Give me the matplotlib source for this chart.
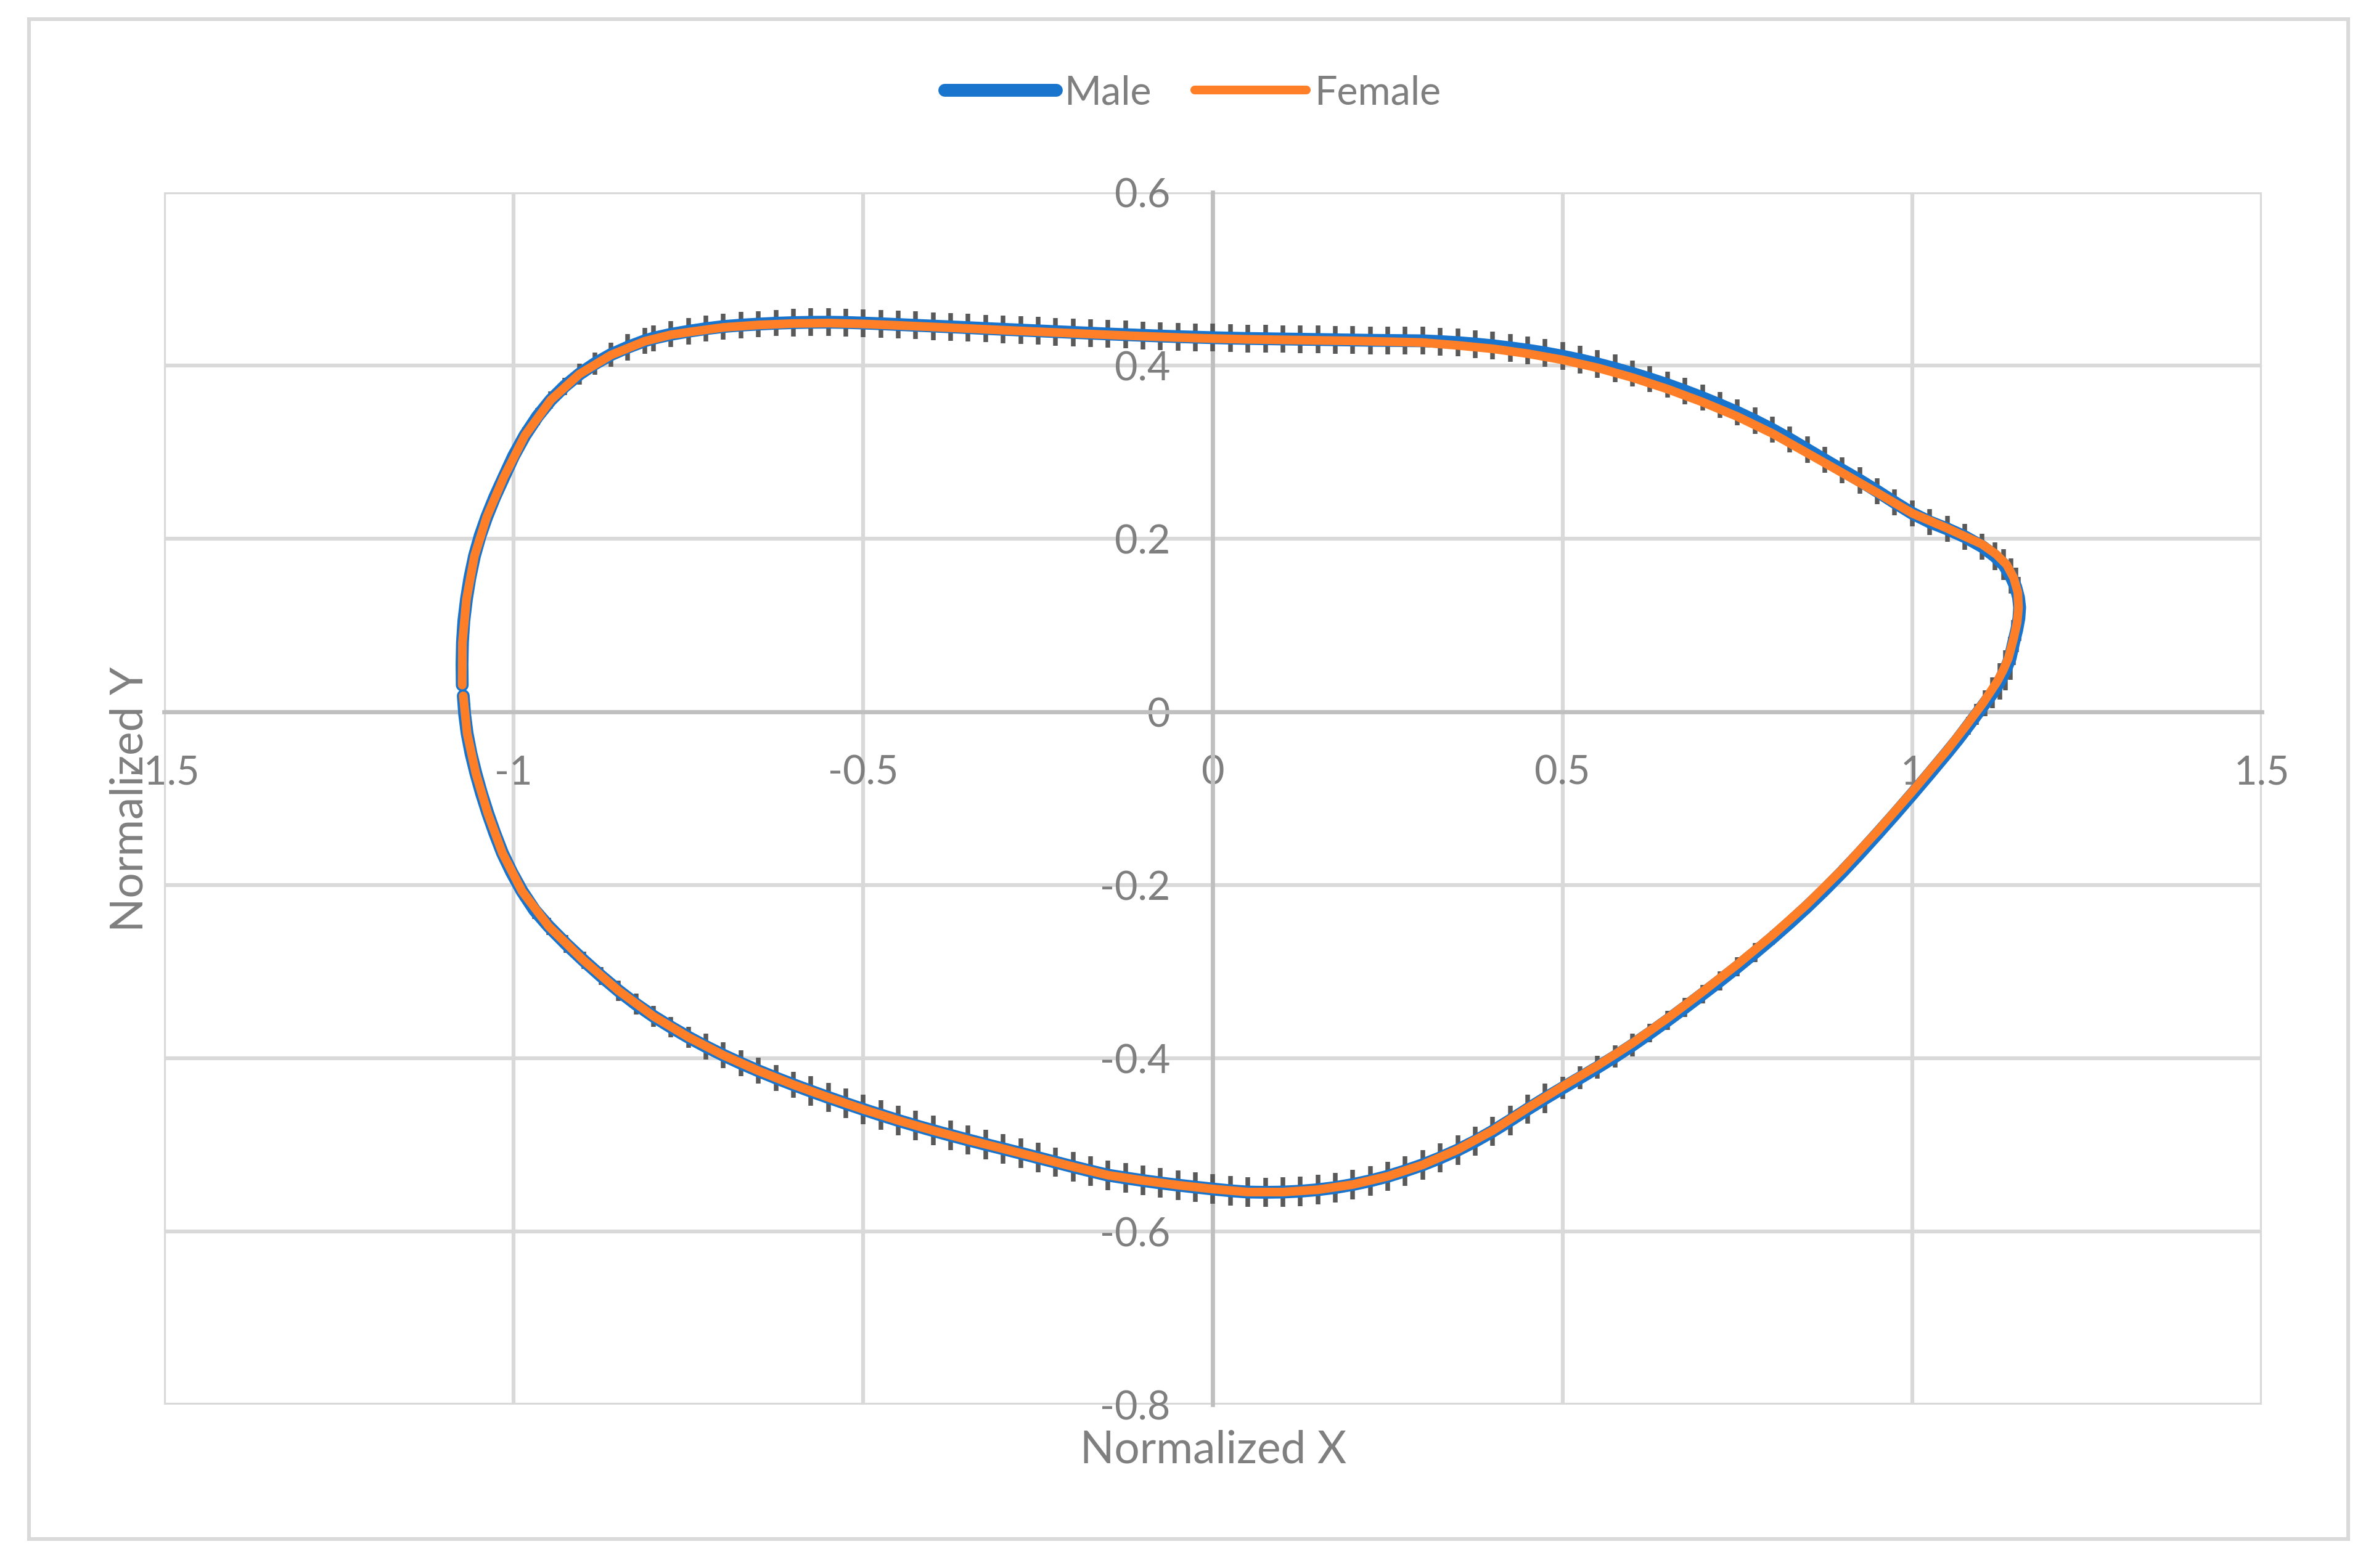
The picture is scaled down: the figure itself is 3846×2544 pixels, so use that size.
import matplotlib.pyplot as plt
from matplotlib.patches import Rectangle

plt.rcParams['font.family'] = ['Lato', 'DejaVu Sans']

# outline: left end -> top -> right tip -> bottom -> left end
male_x = [
    -1.0735, -1.0738, -1.0732, -1.0712, -1.0675, -1.0625, -1.0560, -1.0480, -1.0385, -1.0270,
    -1.0140, -1.0000, -0.9840, -0.9660, -0.9470, -0.9270, -0.9060, -0.8840, -0.8610, -0.8370,
    -0.8125,
    -0.800, -0.775, -0.750, -0.725, -0.700, -0.675, -0.650, -0.625, -0.600, -0.575,
    -0.550, -0.525, -0.500, -0.475, -0.450, -0.425, -0.400, -0.375, -0.350, -0.325,
    -0.300, -0.275, -0.250, -0.225, -0.200, -0.175, -0.150, -0.125, -0.100, -0.075,
    -0.050, -0.025, 0.000, 0.025, 0.050, 0.075, 0.100, 0.125, 0.150, 0.175,
    0.200, 0.225, 0.250, 0.275, 0.300, 0.325, 0.350, 0.375, 0.400, 0.425,
    0.450, 0.475, 0.500, 0.525, 0.550, 0.575, 0.600, 0.625, 0.650, 0.675,
    0.700, 0.725, 0.750, 0.775, 0.800, 0.825, 0.850, 0.875, 0.900, 0.925,
    0.950, 0.975, 1.000, 1.025, 1.050, 1.075, 1.100,
    1.1180, 1.1310, 1.1410, 1.1480, 1.1520, 1.1536, 1.1525, 1.1495, 1.1450, 1.1400,
    1.1330, 1.1250, 1.1150, 1.1040, 1.0920, 1.0800,
    1.065, 1.050, 1.025, 1.000, 0.975, 0.950, 0.925, 0.900, 0.875, 0.850,
    0.825, 0.800, 0.775, 0.750, 0.725, 0.700, 0.675, 0.650, 0.625, 0.600,
    0.575, 0.550, 0.525, 0.500, 0.475, 0.450, 0.425, 0.400, 0.375, 0.350,
    0.325, 0.300, 0.275, 0.250, 0.225, 0.200, 0.175, 0.150, 0.125, 0.100,
    0.075, 0.050, 0.025, 0.000, -0.025, -0.050, -0.075, -0.100, -0.125, -0.150,
    -0.175, -0.200, -0.225, -0.250, -0.275, -0.300, -0.325, -0.350, -0.375, -0.400,
    -0.425, -0.450, -0.475, -0.500, -0.525, -0.550, -0.575, -0.600, -0.625, -0.650,
    -0.675, -0.700, -0.725, -0.750, -0.775, -0.800, -0.825, -0.850,
    -0.8750, -0.9000, -0.9250, -0.9500, -0.9700, -0.9880, -1.0030, -1.0160, -1.0270, -1.0370,
    -1.0460, -1.0540, -1.0610, -1.0665, -1.0700, -1.0720,
]
male_y = [
    0.0310, 0.0550, 0.0800, 0.1050, 0.1300, 0.1550, 0.1800, 0.2030, 0.2250, 0.2480,
    0.2710, 0.2955, 0.3190, 0.3410, 0.3600, 0.3760, 0.3900, 0.4020, 0.4125, 0.4210,
    0.4285,
    0.4315, 0.4360, 0.4395, 0.4425, 0.4450, 0.4466, 0.4478, 0.4488, 0.4495, 0.4499,
    0.4500, 0.4497, 0.4490, 0.4482, 0.4473, 0.4464, 0.4455, 0.4446, 0.4437, 0.4427,
    0.4418, 0.4409, 0.4400, 0.4391, 0.4382, 0.4373, 0.4364, 0.4356, 0.4348, 0.4340,
    0.4333, 0.4327, 0.4321, 0.4316, 0.4312, 0.4309, 0.4306, 0.4303, 0.4300, 0.4297,
    0.4294, 0.4291, 0.4289, 0.4287, 0.4285, 0.4276, 0.4264, 0.4248, 0.4228, 0.4204,
    0.4177, 0.4145, 0.4107, 0.4065, 0.4018, 0.3965, 0.3908, 0.3845, 0.3778, 0.3705,
    0.3628, 0.3545, 0.3458, 0.3363, 0.3260, 0.3148, 0.3028, 0.2908, 0.2790, 0.2673,
    0.2548, 0.2418, 0.2293, 0.2193, 0.2113, 0.2023, 0.1910,
    0.1800, 0.1700, 0.1570, 0.1443, 0.1320, 0.1205, 0.1080, 0.0950, 0.0800, 0.0620,
    0.0480, 0.0350, 0.0220, 0.0100, -0.0030, -0.0160,
    -0.0320, -0.0470, -0.0712, -0.0950, -0.1183, -0.1410, -0.1633, -0.1848, -0.2053, -0.2248,
    -0.2433, -0.2610, -0.2780, -0.2945, -0.3105, -0.3260, -0.3413, -0.3563, -0.3708, -0.3848,
    -0.3980, -0.4105, -0.4225, -0.4343, -0.4463, -0.4588, -0.4718, -0.4843, -0.4958, -0.5060,
    -0.5150, -0.5230, -0.5300, -0.5363, -0.5415, -0.5458, -0.5493, -0.5518, -0.5535, -0.5545,
    -0.5548, -0.5545, -0.5530, -0.5510, -0.5488, -0.5465, -0.5440, -0.5412, -0.5382, -0.5350,
    -0.5302, -0.5252, -0.5200, -0.5148, -0.5096, -0.5045, -0.4995, -0.4943, -0.4890, -0.4835,
    -0.4778, -0.4718, -0.4655, -0.4590, -0.4522, -0.4452, -0.4380, -0.4305, -0.4227, -0.4145,
    -0.4058, -0.3965, -0.3865, -0.3757, -0.3640, -0.3515, -0.3375, -0.3220,
    -0.3050, -0.2870, -0.2680, -0.2475, -0.2290, -0.2070, -0.1850, -0.1630, -0.1400, -0.1170,
    -0.0940, -0.0710, -0.0480, -0.0250, -0.0030, 0.0185,
]
male_err = [
    0.010, 0.010, 0.010, 0.010, 0.010, 0.010, 0.010, 0.010, 0.010, 0.010,
    0.010, 0.010, 0.010, 0.010, 0.010, 0.010, 0.012, 0.013, 0.014, 0.015,
    0.015,
    0.015, 0.015, 0.015, 0.015, 0.015, 0.015, 0.015, 0.015, 0.016, 0.016,
    0.016, 0.016, 0.016, 0.016, 0.016, 0.016, 0.016, 0.016, 0.016, 0.016,
    0.016, 0.016, 0.016, 0.016, 0.016, 0.016, 0.016, 0.016, 0.016, 0.016,
    0.016, 0.016, 0.016, 0.016, 0.016, 0.016, 0.016, 0.016, 0.016, 0.016,
    0.016, 0.016, 0.016, 0.016, 0.016, 0.016, 0.016, 0.016, 0.016, 0.016,
    0.016, 0.016, 0.016, 0.016, 0.016, 0.016, 0.015, 0.015, 0.015, 0.015,
    0.015, 0.015, 0.015, 0.015, 0.015, 0.015, 0.015, 0.015, 0.015, 0.015,
    0.015, 0.015, 0.015, 0.015, 0.015, 0.015, 0.015,
    0.016, 0.018, 0.020, 0.022, 0.024, 0.025, 0.026, 0.026, 0.026, 0.025,
    0.023, 0.021, 0.018, 0.015, 0.012, 0.010,
    0.008, 0.008, 0.008, 0.008, 0.008, 0.008, 0.008, 0.008, 0.008, 0.008,
    0.008, 0.008, 0.011, 0.011, 0.011, 0.011, 0.011, 0.011, 0.011, 0.013,
    0.013, 0.013, 0.013, 0.013, 0.017, 0.017, 0.017, 0.017, 0.017, 0.017,
    0.017, 0.017, 0.017, 0.017, 0.017, 0.017, 0.017, 0.017, 0.017, 0.017,
    0.017, 0.017, 0.017, 0.017, 0.017, 0.017, 0.017, 0.017, 0.017, 0.017,
    0.017, 0.017, 0.017, 0.017, 0.017, 0.017, 0.017, 0.017, 0.017, 0.017,
    0.017, 0.017, 0.017, 0.017, 0.017, 0.017, 0.017, 0.015, 0.015, 0.015,
    0.015, 0.015, 0.015, 0.012, 0.012, 0.012, 0.012, 0.012,
    0.010, 0.010, 0.010, 0.010, 0.010, 0.010, 0.010, 0.010, 0.010, 0.010,
    0.010, 0.010, 0.010, 0.010, 0.010, 0.010,
]

female_x = [
    -1.0735, -1.0732, -1.0675, -1.0560, -1.0385, -1.0140, -0.9840, -0.9470, -0.9060, -0.8610,
    -0.8125, -0.775,
    -0.750, -0.700, -0.650, -0.600, -0.550, -0.500, -0.450, -0.400, -0.350, -0.300,
    -0.250, -0.200, -0.150, -0.100, -0.050, 0.000, 0.050, 0.100, 0.150, 0.200,
    0.250, 0.300, 0.350, 0.400, 0.450, 0.500, 0.550, 0.600, 0.650, 0.700,
    0.750, 0.800, 0.850, 0.900, 0.950, 1.000, 1.050, 1.100,
    1.1200, 1.1350, 1.1450, 1.1510, 1.1520, 1.1500, 1.1450, 1.1375, 1.1300, 1.1215,
    1.1010, 1.0770,
    1.050, 1.000, 0.950, 0.900, 0.850, 0.800, 0.750, 0.700, 0.650, 0.600,
    0.550, 0.500, 0.450, 0.400, 0.350, 0.300, 0.250, 0.200, 0.150, 0.100,
    0.050, 0.000, -0.050, -0.100, -0.150, -0.200, -0.250, -0.300, -0.350, -0.400,
    -0.450, -0.500, -0.550, -0.600, -0.650, -0.700, -0.750, -0.800, -0.850,
    -0.9000, -0.9500, -0.9880, -1.0160, -1.0370, -1.0540, -1.0665, -1.0720,
]
female_y = [
    0.0310, 0.0800, 0.1300, 0.1800, 0.2250, 0.2710, 0.3190, 0.3600, 0.3900, 0.4120,
    0.4280, 0.4355,
    0.4385, 0.4440, 0.4468, 0.4485, 0.4490, 0.4480, 0.4463, 0.4445, 0.4427, 0.4408,
    0.4390, 0.4372, 0.4354, 0.4338, 0.4323, 0.4311, 0.4302, 0.4296, 0.4290, 0.4284,
    0.4275, 0.4265, 0.4232, 0.4193, 0.4137, 0.4065, 0.3973, 0.3860, 0.3728, 0.3578,
    0.3410, 0.3215, 0.2988, 0.2760, 0.2530, 0.2293, 0.2120, 0.1935,
    0.1820, 0.1700, 0.1550, 0.1380, 0.1205, 0.1030, 0.0850, 0.0620, 0.0480, 0.0350,
    0.0100, -0.0160,
    -0.0440, -0.0920, -0.1380, -0.1818, -0.2218, -0.2580, -0.2915, -0.3233, -0.3538, -0.3825,
    -0.4085, -0.4325, -0.4575, -0.4835, -0.5055, -0.5230, -0.5363, -0.5458, -0.5518, -0.5545,
    -0.5545, -0.5510, -0.5465, -0.5412, -0.5350, -0.5252, -0.5148, -0.5045, -0.4943, -0.4835,
    -0.4718, -0.4590, -0.4452, -0.4305, -0.4145, -0.3965, -0.3757, -0.3515, -0.3220,
    -0.2870, -0.2475, -0.2070, -0.1630, -0.1170, -0.0710, -0.0250, 0.0185,
]

xticks = [-1.5, -1, -0.5, 0, 0.5, 1, 1.5]
xtick_labels = ['-1.5', '-1', '-0.5', '0', '0.5', '1', '1.5']
yticks = [-0.8, -0.6, -0.4, -0.2, 0, 0.2, 0.4, 0.6]
ytick_labels = ['-0.8', '-0.6', '-0.4', '-0.2', '0', '0.2', '0.4', '0.6']

text_gray = '#7F7F7F'

fig = plt.figure(figsize=(3846 / 300, 2545 / 300), dpi=300)
fig.patches.append(Rectangle((0.0122, 0.0185), 0.9782, 0.9690, transform=fig.transFigure,
                             fill=False, edgecolor='#D9D9D9', linewidth=1.45))

ax = fig.add_axes([0.06916, 0.10413, 0.88482, 0.77289])
ax.set_xlim(-1.5, 1.5)
ax.set_ylim(-0.8, 0.6)
ax.set_xticks(xticks, labels=xtick_labels)
ax.set_yticks(yticks, labels=ytick_labels)
ax.set_axisbelow(True)
ax.grid(True, color='#D9D9D9', linewidth=1.5)
for line in ax.get_xgridlines() + ax.get_ygridlines():
    line.set_clip_on(False)

for side in ['top', 'right']:
    ax.spines[side].set_visible(False)
for side in ['left', 'bottom']:
    ax.spines[side].set_position(('data', 0))
    ax.spines[side].set_color('#BFBFBF')
    ax.spines[side].set_linewidth(1.6)
ax.tick_params(axis='both', length=0, labelsize=15.5, labelcolor=text_gray)
ax.tick_params(axis='x', pad=16.5)
ax.tick_params(axis='y', pad=16.5)

ax.errorbar(male_x, male_y, yerr=male_err, fmt='none', ecolor='#595959',
            elinewidth=1.8, capsize=0, zorder=2.6)
ax.plot(male_x, male_y, color='#1874CD', linewidth=5, solid_capstyle='round',
        solid_joinstyle='round', label='Male', zorder=3)
ax.plot(female_x, female_y, color='#FE7F27', linewidth=3.4, solid_capstyle='round',
        solid_joinstyle='round', label='Female', zorder=4)

fig.legend(loc='center', bbox_to_anchor=(0.503, 0.9407), ncol=2, frameon=False,
           fontsize=15.5, labelcolor=text_gray, handlelength=2.8, handletextpad=0.2,
           columnspacing=1.1)

fig.text(0.5116, 0.0672, 'Normalized X', ha='center', va='baseline',
         fontsize=17.5, color=text_gray)
fig.text(0.0601, 0.4906, 'Normalized Y', ha='center', va='baseline', rotation=90,
         rotation_mode='anchor', fontsize=17.5, color=text_gray)

fig.savefig('out.png', dpi=300)
